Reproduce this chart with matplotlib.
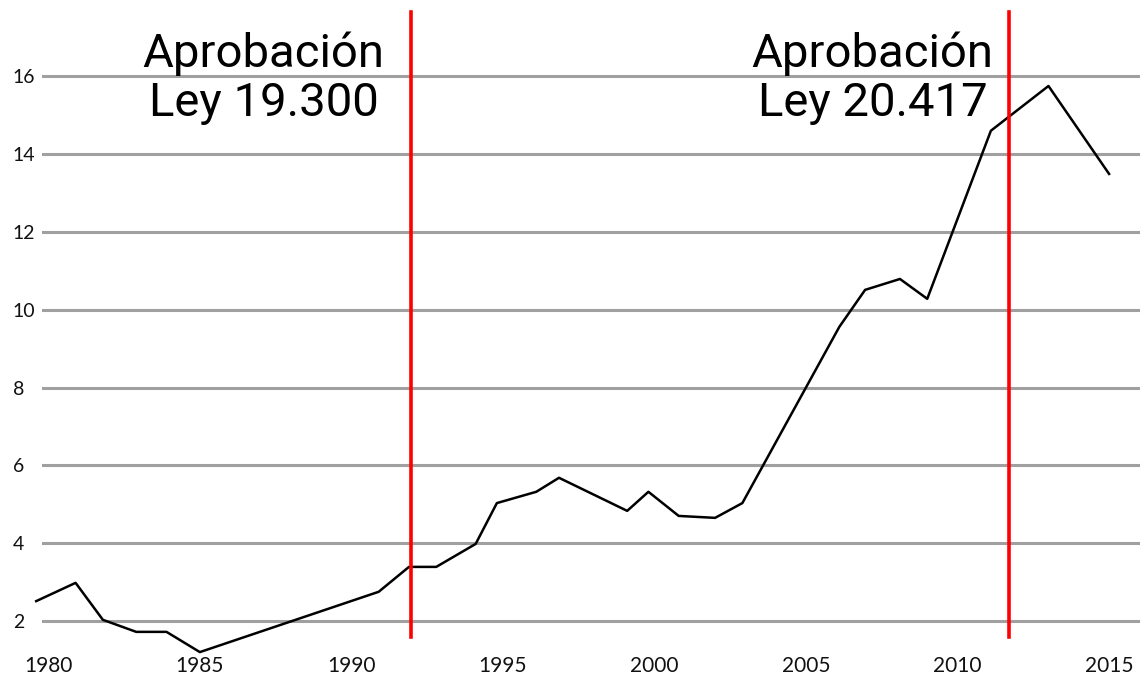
import matplotlib.pyplot as plt

# values
years = [1979.6, 1980.9, 1981.8, 1982.9, 1983.9, 1985.0, 1990.9, 1991.9,
         1992.8, 1994.1, 1994.8, 1996.1, 1996.85, 1999.1, 1999.8, 2000.8,
         2002.0, 2002.9, 2006.1, 2006.95, 2008.1, 2009.0, 2011.1, 2013.0, 2015.0]
values = [2.51, 2.98, 2.03, 1.72, 1.72, 1.20, 2.75, 3.39,
          3.39, 3.98, 5.03, 5.32, 5.68, 4.83, 5.32, 4.70,
          4.65, 5.03, 9.56, 10.51, 10.79, 10.28, 14.60, 15.75, 13.49]

law_years = [1991.96, 2011.7]
law_labels = ["Aprobación\nLey 19.300", "Aprobación\nLey 20.417"]
label_x = [1987.1, 2007.2]

y_ticks = [2, 4, 6, 8, 10, 12, 14, 16]
x_ticks = [1980, 1985, 1990, 1995, 2000, 2005, 2010, 2015]

plt.rcParams['font.family'] = ['Lato', 'DejaVu Sans']

fig = plt.figure(figsize=(11.4, 6.8), dpi=100)
ax = fig.add_axes([0.0368, 0.0515, 0.9632, 0.9485])

ax.set_xlim(1979.79, 2016.02)
ax.set_ylim(1.383, 17.96)

for y in y_ticks:
    ax.axhline(y, color='#a0a0a0', lw=2.2, zorder=1)

ax.plot(years, values, color='black', lw=1.8, zorder=3, clip_on=False)

for x in law_years:
    ax.plot([x, x], [1.59, 17.66], color='#ff0000', lw=2.6, zorder=4, clip_on=False)

for x, txt in zip(label_x, law_labels):
    ax.text(x, 15.95, txt, ha='center', va='center', fontsize=34,
            family=['Roboto', 'DejaVu Sans'], fontweight='normal',
            linespacing=1.12, color='black', zorder=5)

ax.set_yticks(y_ticks)
ax.set_xticks(x_ticks)
ax.tick_params(axis='both', length=0, labelcolor='#111111')
ax.tick_params(axis='y', pad=21, labelsize=14)
ax.tick_params(axis='x', pad=8, labelsize=15)
for lbl in ax.get_yticklabels():
    lbl.set_horizontalalignment('left')

for s in ax.spines.values():
    s.set_visible(False)

fig.savefig("out.png", dpi=100)
